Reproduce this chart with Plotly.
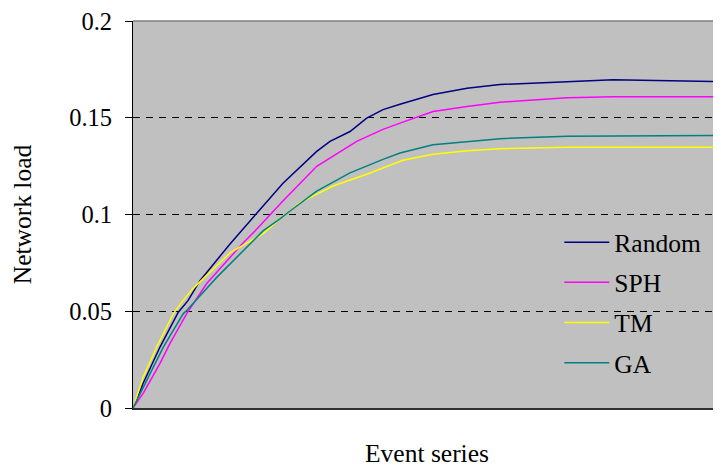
import plotly.graph_objects as go

# Event index (x) and network load values
random_x = [0, 10.3, 27, 45.3, 55, 67, 97, 122, 150, 183.7, 197, 217, 233.7, 250, 267, 300, 334, 367, 400, 434, 480, 534, 588]
random_y = [0, 0.0129, 0.0315, 0.0495, 0.0555, 0.0658, 0.0848, 0.0997, 0.1162, 0.1326, 0.1378, 0.1429, 0.1498, 0.1542, 0.157, 0.162, 0.1652, 0.1672, 0.1678, 0.1686, 0.1697, 0.1692, 0.1686]

sph_x = [0, 10.3, 27, 37, 53.7, 62, 73.7, 110, 122, 148, 183.7, 223.7, 250, 267, 300, 334, 367, 400, 434, 480, 588]
sph_y = [0, 0.0077, 0.0231, 0.0334, 0.0488, 0.0555, 0.0643, 0.0853, 0.0915, 0.1059, 0.1249, 0.1378, 0.144, 0.1472, 0.1532, 0.1558, 0.158, 0.1592, 0.1604, 0.1609, 0.1609]

tm_x = [0, 10.3, 23.7, 40.3, 50, 60, 97, 130, 137, 147, 167, 200, 233.7, 270, 300, 334, 367, 434, 588]
tm_y = [0, 0.0161, 0.0315, 0.0487, 0.0555, 0.0617, 0.0802, 0.09, 0.0932, 0.0977, 0.1061, 0.1147, 0.1208, 0.128, 0.1311, 0.133, 0.134, 0.1347, 0.1347]

ga_x = [0, 10.3, 30.3, 50.3, 53.7, 83.7, 113.7, 130, 147, 157, 183.7, 217, 250, 267, 300, 334, 367, 434, 588]
ga_y = [0, 0.011, 0.0315, 0.0488, 0.0504, 0.0675, 0.0829, 0.0915, 0.0977, 0.1018, 0.1121, 0.1215, 0.1285, 0.1318, 0.1361, 0.1378, 0.1392, 0.1405, 0.1409]

y_ticks = [0, 0.05, 0.1, 0.15, 0.2]
y_tick_labels = ["0", "0.05", "0.1", "0.15", "0.2"]

series = [
    ("Random", random_x, random_y, "#000080"),
    ("SPH", sph_x, sph_y, "#FF00FF"),
    ("TM", tm_x, tm_y, "#FFFF00"),
    ("GA", ga_x, ga_y, "#008080"),
]

FONT = "Liberation Serif, Times New Roman, serif"

fig = go.Figure()
for name, xs, ys, col in series:
    fig.add_trace(go.Scatter(x=xs, y=ys, mode="lines", name=name, legendgroup=name,
                             line=dict(color=col, width=1.5)))

# page body has an 8px margin, so the figure is shrunk by 8px on each axis
fig.update_layout(
    width=713, height=460,
    margin=dict(l=125, r=0, t=11, b=60),
    paper_bgcolor="white",
    plot_bgcolor="#C0C0C0",
    font=dict(family=FONT, size=24.5, color="black"),
    showlegend=True,
    legend=dict(x=0.725, y=0.488, xanchor="left", yanchor="top",
                bgcolor="rgba(0,0,0,0)", font=dict(size=25.5, family=FONT),
                tracegroupgap=4, itemwidth=45),
    xaxis=dict(range=[0, 588], showticklabels=False, ticks="", showgrid=False,
               zeroline=False, showline=True, linecolor="#303030", linewidth=2,
               title=dict(text="Event series", standoff=37, font=dict(size=25.5, family=FONT))),
    yaxis=dict(range=[0, 0.2], tickvals=y_ticks, ticktext=y_tick_labels,
               ticks="outside", ticklen=7, tickcolor="black", ticklabelstandoff=8,
               ticklabeloverflow="allow",
               showgrid=True, gridcolor="black", griddash="7px,6px", gridwidth=1,
               zeroline=False, showline=True, linecolor="black", linewidth=1,
               title=dict(text="Network load", standoff=31, font=dict(size=25.5, family=FONT))),
)
fig.add_shape(type="line", xref="paper", yref="paper", x0=0, x1=1, y0=1, y1=1,
              line=dict(color="#808080", width=1.5))
fig.write_html("out.html")
